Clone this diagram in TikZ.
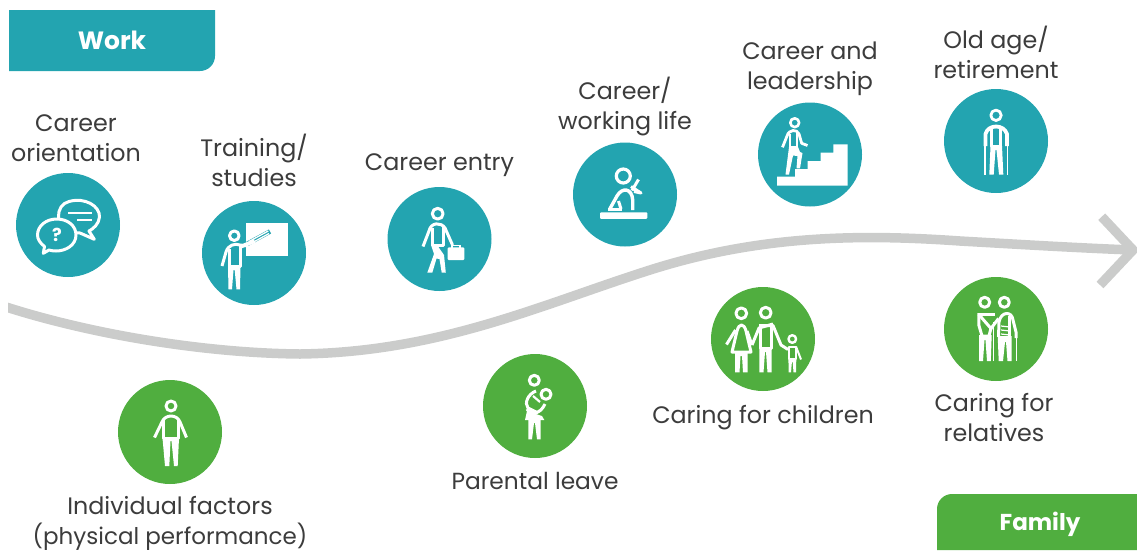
\documentclass[tikz,border=0pt]{standalone}
\usepackage{fontspec}
\setmainfont{Poppins}
\definecolor{teal}{HTML}{23A4B0}
\definecolor{leaf}{HTML}{50AE3F}
\definecolor{ink}{HTML}{3C3C3C}
\definecolor{band}{HTML}{CBCCCB}
\tikzset{
  disc/.style={circle,minimum size=104pt,inner sep=0pt,outer sep=0pt},
  workdisc/.style={disc,fill=teal},
  famdisc/.style={disc,fill=leaf},
  lbl/.style={text=ink,align=center,inner sep=0pt,font=\fontsize{23.8}{30}\selectfont},
  tabtext/.style={text=white,inner sep=0pt,font=\fontsize{23}{28}\selectfont\bfseries},
  ico/.style={draw=white,line width=3pt,line cap=butt,line join=round}
}
\begin{document}
\begin{tikzpicture}[x=1pt,y=-1pt]
\useasboundingbox (0,0) rectangle (1137,550);
% band
\begin{scope}
\clip (8,0) rectangle (1137,550);
\coordinate (bandstart) at (0,305);
\coordinate (tip) at (1133,250);
\coordinate (chevtop) at (1101.7,216.7);
\coordinate (chevbot) at (1100,285);
\draw[band,line width=9.5pt] (bandstart) .. controls (85,333) and (200,353) .. (300,354)
  .. controls (440,352) and (540,305) .. (650,270)
  .. controls (760,235) and (860,234) .. (960,241)
  .. controls (1030,245) and (1080,248) .. (tip);
\draw[band,line width=9.5pt,line join=miter] (chevtop) -- (tip) -- (chevbot);
\end{scope}
% tabs
\fill[teal] (9,10) -- (215,10) [rounded corners=15pt] -- (215,71) [sharp corners] -- (9,71) -- cycle;
\fill[leaf] (937,550) [rounded corners=15pt] -- (937,494) [sharp corners] -- (1137,494) -- (1137,550) -- cycle;
\node[tabtext,font=\fontsize{25}{28}\selectfont\bfseries] (work) at (112,40) {Work};
\node[tabtext] (family) at (1040,524) {Family};
% discs
\node[workdisc] (orient) at (68,225) {};
\node[workdisc] (train) at (254,253) {};
\node[workdisc] (entry) at (439.5,239) {};
\node[workdisc] (life) at (625,194.5) {};
\node[workdisc] (lead) at (810,154.5) {};
\node[workdisc] (old) at (996,141) {};
\node[famdisc] (indiv) at (170,432) {};
\node[famdisc] (parent) at (535,406) {};
\node[famdisc] (child) at (763,339) {};
\node[famdisc] (rel) at (996,329) {};
% labels
\node[lbl] (lorient) at (76,138) {Career\\orientation};
\node[lbl] (ltrain) at (254,160) {Training/\\studies};
\node[lbl] (lentry) at (439.5,165) {Career entry};
\node[lbl] (llife) at (625,106) {Career/\\working life};
\node[lbl] (llead) at (810,69) {Career and\\leadership};
\node[lbl] (lold) at (996,52) {Old age/\\retirement};
\node[lbl] (lindiv) at (170,523) {Individual factors\\{\fontsize{23}{30}\selectfont (physical performance)}};
\node[lbl,font=\fontsize{23.3}{30}\selectfont] (lparent) at (535,481) {Parental leave};
\node[lbl] (lchild) at (763,418) {Caring for children};
\node[lbl] (lrel) at (994,418) {Caring for\\relatives};
% orientation icon
\draw[ico,fill=teal] (69,201.5) .. controls (85,197) and (100,206) .. (99.5,217)
  .. controls (99,224) and (93,229) .. (89,231) -- (94.3,239.3) -- (80,233)
  .. controls (70,233) and (60,228) .. (58.5,217) .. controls (58,210) and (62,203) .. (69,201.5) -- cycle;
\draw[ico,fill=teal] (56.7,219) .. controls (68,219) and (76,226) .. (76,235)
  .. controls (76,245) and (66,251) .. (56,251) .. controls (53,251) and (50,250.5) .. (49,250) -- (43.3,253.3) -- (44.5,246.5)
  .. controls (40,243) and (37.5,239) .. (37.5,235) .. controls (37.5,226) and (46,219) .. (56.7,219) -- cycle;
\draw[white,line width=1.8pt] (68.3,213.3) -- (91.7,213.3) (77.3,220) -- (91.7,220);
\node[text=white,inner sep=0pt,font=\fontsize{18}{18}\selectfont\bfseries] (qm) at (57,234.5) {?};
% training icon
\fill[white] (246,222.7) rectangle (287.7,256);
\draw[ico] (234.3,235.7) circle[radius=4.8];
\draw[ico] (222,266) -- (226,252) .. controls (228,245) and (235,243) .. (240,245) -- (248,246);
\draw[ico] (240,244.5) -- (240,266) -- (229,266) -- (229,249);
\draw[teal,line width=4.6pt] (247,244) -- (270,231.5);
\draw[white,line width=1.3pt] (249,241.5) -- (268.3,231) (250,244) -- (269,233.5);
\fill[white] (240,245) -- (254,239) -- (255,243) -- (240,249) -- cycle;
\fill[white] (228,266) -- (240.5,266) -- (240,289.3) -- (236.5,289.3) -- (234.7,270) -- (233.5,270) -- (232,289.3) -- (228.5,289.3) -- cycle;
% entry icon
\draw[ico] (437.7,213.7) circle[radius=5.4];
\draw[ico] (423,246.5) -- (429,231) .. controls (431,222) and (441,222) .. (445,228) -- (452.5,245);
\draw[ico] (443,226) -- (443,245.5) -- (432.5,245.5) -- (432.5,228);
\fill[white] (431,245) -- (437,245) -- (444,255) -- (445.8,272.7) -- (441.7,272.7) -- (439.5,259) -- (436.5,258.5) -- (432.3,272.7) -- (427.3,272.7) -- (434,254) -- cycle;
\fill[white,rounded corners=1pt] (447.7,247.3) rectangle (464.3,260);
\draw[white,line width=1.4pt] (452,248) -- (452,245.3) -- (460,245.3) -- (460,248);
% life icon
\draw[ico,line width=3.2pt] (623.3,176) circle[radius=7];
\draw[ico,line width=3.4pt] (609.5,209.5) -- (617,196) .. controls (622,187) and (632,188) .. (632.7,200) -- (632.7,210);
\draw[ico] (608,209.5) -- (622,209.5);
\draw[ico] (618.5,201) -- (621,209);
\draw[ico] (631,186.5) -- (641,193) -- (634,191.5);
\draw[ico] (638.5,179.5) -- (632,190.5);
\fill[white,rounded corners=1pt] (600,212.3) rectangle (647.3,218.8);
% leadership icon
\fill[white] (777,185.7) -- (777,176.7) -- (795,176.7) -- (795,169) -- (807.7,169) -- (807.7,161) -- (820.7,161) -- (820.7,152.7) -- (833.3,152.7) -- (833.3,144.3) -- (847.7,144.3) -- (847.7,185.7) -- cycle;
\draw[ico,line width=2.6pt] (794.7,122.7) circle[radius=4.4];
\draw[ico,line width=2.8pt] (782.5,147.3) -- (787,136) .. controls (789,129) and (797,129) .. (799,134) -- (801.7,143.3) -- (807.5,145.5);
\draw[ico,line width=2.4pt] (797,132) -- (797,147) -- (790,147) -- (790,134);
\fill[white] (789,147) -- (798,147) -- (800,152) -- (802.5,153) -- (800,168.3) -- (796.5,168.3) -- (797.5,156) -- (793,155.5) -- (789,174.5) -- (785.5,174.5) -- (788,155) -- cycle;
% old age icon
\draw[ico,line width=2.8pt] (996,115.3) circle[radius=5.2];
\draw[ico,line width=3.8pt] (985.5,146) -- (985.5,134) .. controls (988,124) and (1004,124) .. (1007,134) -- (1007,146);
\draw[ico,line width=2.6pt] (1000.5,127) -- (1000.5,146.5) -- (991.5,146.5) -- (991.5,127);
\draw[white,line width=1.5pt] (985,146) -- (985,175) (1007.7,146) -- (1007.7,175);
\fill[white] (990.5,146) -- (1002,146) -- (1003.3,174.5) -- (999,174.5) -- (996.5,150) -- (995.5,150) -- (993.7,174.5) -- (989.3,174.5) -- cycle;
% individual icon
\draw[ico] (171,406) circle[radius=5];
\draw[ico] (154.5,437.5) -- (162,422) .. controls (165,414) and (177,414) .. (180,422) -- (186.5,437.5);
\draw[ico] (178,420) -- (178,438) -- (163.5,438) -- (163.5,420);
\fill[white] (162.5,438) -- (179,438) -- (177.7,466) -- (174,466) -- (171.5,441) -- (170.5,441) -- (169.3,466) -- (165,466) -- cycle;
% parental icon
\draw[ico] (534.3,380.3) circle[radius=5];
\draw[ico] (546,394.3) circle[radius=5];
\draw[ico] (536,391) .. controls (528,394) and (524,403) .. (528,408) -- (538,413);
\draw[ico] (527,409) .. controls (530,415) and (540,415) .. (545,404);
\draw[ico,line width=2.2pt] (533,396) -- (540,402);
\fill[white] (527,411) -- (542,416) -- (544.3,420) -- (525,420) -- cycle;
\fill[white] (528.3,420) -- (540.7,420) -- (540.7,439.3) -- (537,439.3) -- (535,423) -- (534,423) -- (532,439.3) -- (528.3,439.3) -- cycle;
% caring for children icon
\draw[ico] (741.3,313.3) circle[radius=5.4];
\draw[ico] (732,352) -- (737,331) .. controls (739,323) and (744,323) .. (746,331) -- (751,352) -- cycle;
\draw[ico] (726.5,344.5) -- (735.5,330) (747,331) -- (752,345);
\fill[white] (735,352) -- (747.7,352) -- (747.7,372.3) -- (743,372.3) -- (742,356) -- (740.5,356) -- (739.5,372.3) -- (735,372.3) -- cycle;
\draw[ico] (765.7,312.7) circle[radius=5.4];
\draw[ico] (752,345) -- (759,328) -- (773,324);
\draw[ico] (759,325.5) -- (773,325.5) -- (781,345) -- (788,349.5);
\draw[ico] (771,326) -- (771,348) -- (760,348) -- (760,326);
\fill[white] (759.3,348) -- (771.7,348) -- (771.7,372.3) -- (767.5,372.3) -- (766,352) -- (765,352) -- (763.5,372.3) -- (759.3,372.3) -- cycle;
\draw[ico,line width=2.4pt] (792.3,339) circle[radius=3.8];
\draw[ico,line width=2pt] (789,359) -- (789,346.5) -- (796,346.5) -- (796,359) -- cycle;
\draw[ico,line width=2pt] (796,346.5) -- (801,359.5);
\fill[white] (788.4,359) -- (796.3,359) -- (796,372.3) -- (793.5,372.3) -- (792.7,362) -- (791.9,362) -- (791,372.3) -- (788.7,372.3) -- cycle;
% caring for relatives icon
\draw[ico] (984.7,302.3) circle[radius=5];
\draw[ico] (1004.3,302.3) circle[radius=5];
\draw[ico] (978.8,314.5) -- (991,328.5) -- (998.5,318.5);
\draw[ico] (979,314) -- (995,314);
\draw[ico] (978.8,313) -- (978.8,325) -- (982,336) -- (989,336) -- (991,328);
\fill[white] (979,335) -- (991.7,335) -- (990.8,361) -- (987,361) -- (985.5,340) -- (984.5,340) -- (983,361) -- (979,361) -- cycle;
\draw[white,line width=1.4pt] (993.7,322) -- (993.7,361) (1016.7,333) -- (1016.7,361);
\draw[ico] (998.5,337) -- (999,322) .. controls (1001,311) and (1012,311) .. (1013,320) -- (1016,332) -- (1016,338);
\draw[ico,line width=2.4pt] (1009.5,316) -- (1009.5,337);
\draw[white,line width=1.2pt] (1001,326) -- (1010,327) (1001,330) -- (1010,331) (1001,334) -- (1010,335);
\fill[white] (997.7,336) -- (1011.7,336) -- (1011.7,361) -- (1007.5,361) -- (1006,342) -- (1005,342) -- (1003,361) -- (998.7,361) -- cycle;
\end{tikzpicture}
\end{document}
